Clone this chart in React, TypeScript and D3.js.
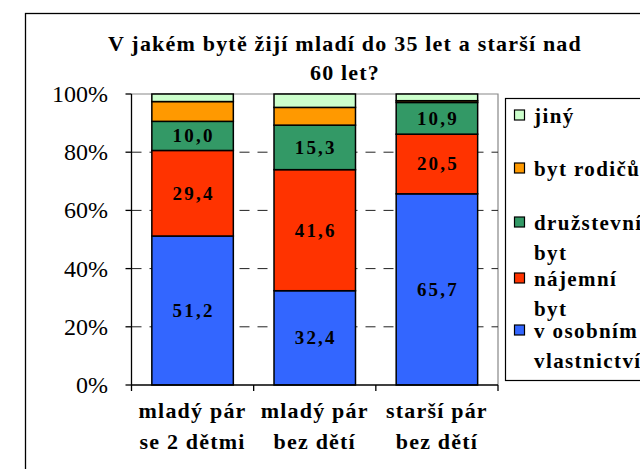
import React from "react";
import * as d3 from "d3";

const categories = [["mladý pár", "se 2 dětmi"], ["mladý pár", "bez dětí"], ["starší pár", "bez dětí"]];
const seriesColors = ["#3366FF", "#FF3300", "#339966", "#FF9900", "#CCFFCC"];
const osobni = [51.2, 32.4, 65.7];
const najemni = [29.4, 41.6, 20.5];
const druzstevni = [10.0, 15.3, 10.9];
const rodicu = [6.8, 6.1, 0.6];
const jiny = [2.6, 4.6, 2.3];
const labeled = [true, true, true, false, false];
const yTicks = [0, 20, 40, 60, 80, 100];
const legendLines = [["jiný"], ["byt rodičů"], ["družstevní", "byt"], ["nájemní", "byt"], ["v osobním", "vlastnictví"]];

const FONT = "Liberation Serif";
const bold = (size: number, ls = 0): React.CSSProperties => ({ fontFamily: FONT, fontWeight: 700, fontSize: size, letterSpacing: ls });

export default function App() {
  const W = 640, H = 469;
  const left = 131.5, right = 498, top = 94, bottom = 385;
  const series = [osobni, najemni, druzstevni, rodicu, jiny];
  const x = d3.scaleBand<number>().domain([0, 1, 2]).range([left, right]).paddingInner(0.333).paddingOuter(0.1665);
  const y = d3.scaleLinear().domain([0, 100]).range([bottom, top]);
  const stackData = categories.map((_, i) => {
    const o: any = {};
    series.forEach((s, k) => (o["s" + k] = s[i]));
    return o;
  });
  const stacked = d3.stack().keys(series.map((_, k) => "s" + k))(stackData);
  const step = (right - left) / 3;
  const legendY = [116, 169, 223, 279, 331];

  return (
    <svg width={W} height={H} style={{ position: "absolute", left: 0, top: 0, background: "#fff" }}>
      <rect x={25.5} y={13.5} width={W} height={H} fill="#fff" stroke="#000" strokeWidth={1.3} />
      <text x={345} y={51} textAnchor="middle" style={bold(22, 1.2)}>
        V jakém bytě žijí mladí do 35 let a starší nad
      </text>
      <text x={345} y={80} textAnchor="middle" style={bold(22, 1.2)}>
        60 let?
      </text>
      <path d={`M${left},${top}H${right}V${bottom}`} fill="none" stroke="#888" strokeWidth={1.2} />
      {yTicks.filter((t) => t > 0 && t < 100).map((t) => (
        <line key={t} x1={left} x2={right} y1={y(t)} y2={y(t)} stroke="#222" strokeWidth={1} strokeDasharray="10,8" />
      ))}
      {stacked.map((layer, k) =>
        layer.map((d, i) => (
          <rect key={k + "-" + i} x={x(i)} y={y(d[1])} width={x.bandwidth()} height={y(d[0]) - y(d[1])}
            fill={seriesColors[k]} stroke="#000" strokeWidth={1.5} />
        ))
      )}
      {stacked.map((layer, k) =>
        labeled[k]
          ? layer.map((d, i) => (
              <text key={"l" + k + "-" + i} x={(x(i) as number) + x.bandwidth() / 2 + 1} y={(y(d[0]) + y(d[1])) / 2 + 6.5}
                textAnchor="middle" style={bold(19, 2.2)}>
                {series[k][i].toFixed(1).replace(".", ",")}
              </text>
            ))
          : null
      )}
      <line x1={left} x2={left} y1={top} y2={bottom} stroke="#000" strokeWidth={1.3} />
      <line x1={left} x2={right} y1={bottom} y2={bottom} stroke="#000" strokeWidth={1.3} />
      {yTicks.map((t) => (
        <g key={"yt" + t}>
          <line x1={left - 6} x2={left} y1={y(t)} y2={y(t)} stroke="#000" strokeWidth={1.3} />
          <text x={108} y={y(t) + 8} textAnchor="end" style={{ fontFamily: FONT, fontSize: 24 }}>{t}%</text>
        </g>
      ))}
      {[0, 1, 2, 3].map((i) => (
        <line key={"xt" + i} x1={left + i * step} x2={left + i * step} y1={bottom} y2={bottom + 6} stroke="#000" strokeWidth={1.3} />
      ))}
      {categories.map((c, i) => (
        <text key={"c" + i} textAnchor="middle" style={bold(22, 1.2)}>
          <tspan x={(x(i) as number) + x.bandwidth() / 2} y={418}>{c[0]}</tspan>
          <tspan x={(x(i) as number) + x.bandwidth() / 2} y={449}>{c[1]}</tspan>
        </text>
      ))}
      <rect x={505.5} y={98.5} width={160} height={282} fill="#fff" stroke="#000" strokeWidth={1.2} />
      {legendLines.map((lines, j) => {
        const k = 4 - j;
        return (
          <g key={"lg" + j}>
            <rect x={514.5} y={legendY[j] - 6} width={10} height={10} fill={seriesColors[k]} stroke="#000" strokeWidth={1.2} />
            <text style={bold(21, 1.4)}>
              {lines.map((ln, li) => (
                <tspan key={li} x={534} y={legendY[j] + 7 + li * 30}>{ln}</tspan>
              ))}
            </text>
          </g>
        );
      })}
    </svg>
  );
}
